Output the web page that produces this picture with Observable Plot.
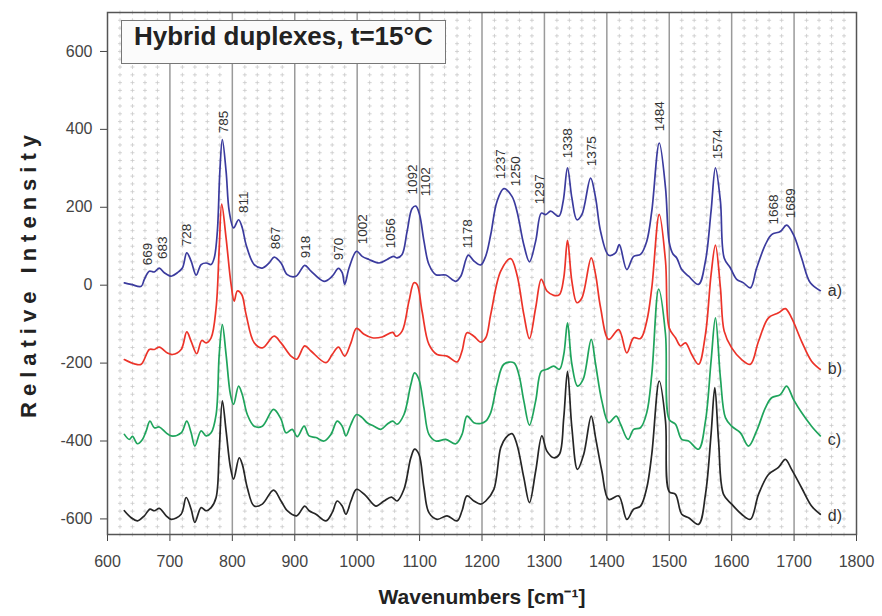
<!DOCTYPE html>
<html><head><meta charset="utf-8">
<script src="https://cdn.jsdelivr.net/npm/d3@7"></script>
<script src="https://cdn.jsdelivr.net/npm/@observablehq/plot@0.6"></script>
<style>
html,body{margin:0;padding:0;background:#fff;}
#wrap{position:relative;width:882px;height:616px;}
#title{position:absolute;left:121px;top:20px;height:42px;line-height:42px;padding:0 12px;border:1.5px solid #777;background:#fbfbfb;font:bold 26px "Liberation Sans",Arial,sans-serif;color:#222;white-space:nowrap;}
</style></head><body><div id="wrap"><div id="title">Hybrid duplexes, t=15°C</div></div>
<script>
// ---- data ----
const waveA = [627,638,654,659,667,675,683,691,702,712,720,727,734,742,750,758,766,771,776,780,784,790,795,802,810,816,822,835,848,859,867,878,888,902,916,926,947,960,970,976,980,987,999,1008,1019,1035,1048,1058,1064,1072,1080,1088,1094,1100,1107,1115,1126,1142,1158,1166,1178,1187,1198,1206,1214,1224,1235,1248,1256,1267,1276,1286,1295,1302,1310,1323,1330,1337,1344,1352,1360,1374,1382,1390,1403,1414,1420,1432,1443,1454,1464,1472,1484,1494,1500,1506,1512,1520,1531,1547,1558,1567,1574,1582,1588,1598,1608,1619,1630,1640,1654,1664,1678,1688,1699,1712,1726,1742];
const intA  = [6,2,-3,15,36,34,44,32,23,32,44,83,62,26,53,57,53,70,138,292,374,292,190,147,168,147,104,53,44,57,72,57,27,23,51,36,10,23,43,32,2,44,87,74,66,57,66,74,70,79,138,197,203,181,113,53,27,26,10,23,77,62,52,75,130,215,248,228,190,104,60,113,185,181,190,177,215,301,224,168,181,275,224,138,77,83,104,40,74,79,113,190,365,250,110,80,70,40,23,2,62,190,301,215,70,44,15,6,-7,44,104,130,138,154,130,70,6,-14];

const waveB = [627,643,654,667,675,683,696,704,718,727,734,743,751,758,766,774,779,783,790,798,803,808,815,822,835,848,867,878,894,903,916,926,950,960,970,980,990,999,1011,1024,1040,1057,1062,1072,1083,1091,1096,1104,1115,1128,1144,1160,1168,1176,1187,1198,1206,1214,1230,1246,1256,1267,1276,1286,1295,1304,1315,1324,1331,1337,1344,1352,1360,1375,1382,1390,1403,1419,1432,1443,1454,1464,1472,1484,1494,1500,1510,1518,1526,1536,1547,1558,1567,1574,1582,1588,1600,1616,1630,1643,1659,1675,1686,1696,1712,1728,1742];
const intB  = [-191,-202,-203,-165,-165,-159,-174,-178,-165,-120,-144,-176,-142,-148,-135,-58,96,208,121,2,-41,-15,-24,-75,-148,-161,-131,-148,-182,-190,-156,-169,-199,-178,-159,-182,-148,-111,-126,-135,-133,-121,-131,-118,-41,6,2,-67,-152,-178,-182,-197,-169,-122,-131,-146,-135,-75,36,68,27,-75,-137,-58,15,-15,-26,-24,19,115,10,-45,-33,70,27,-58,-139,-114,-174,-135,-137,-92,-7,182,62,-110,-135,-156,-148,-178,-203,-126,27,103,-7,-118,-161,-191,-203,-144,-84,-71,-60,-84,-144,-195,-216];

const waveC = [627,635,640,648,656,662,668,675,683,694,702,718,727,734,740,750,758,766,774,779,784,790,797,802,810,816,824,835,848,866,878,886,896,904,915,923,934,947,958,968,976,982,990,999,1008,1016,1027,1038,1048,1057,1064,1075,1086,1092,1099,1107,1115,1126,1142,1158,1168,1176,1187,1198,1206,1214,1224,1235,1251,1259,1267,1276,1286,1295,1304,1315,1324,1331,1337,1344,1353,1362,1375,1382,1392,1403,1415,1422,1434,1443,1454,1464,1472,1483,1494,1500,1510,1520,1531,1547,1558,1567,1574,1582,1590,1600,1614,1627,1640,1654,1664,1678,1688,1699,1712,1728,1742];
const intC  = [-383,-396,-388,-407,-396,-374,-349,-366,-364,-379,-387,-379,-349,-379,-413,-374,-387,-379,-332,-178,-101,-178,-281,-306,-259,-281,-332,-362,-362,-319,-344,-379,-370,-389,-362,-387,-391,-400,-383,-349,-362,-387,-357,-332,-340,-353,-362,-370,-357,-349,-357,-332,-255,-225,-242,-315,-383,-400,-396,-407,-383,-336,-353,-355,-349,-327,-255,-203,-199,-229,-297,-359,-297,-221,-216,-208,-216,-178,-97,-203,-259,-242,-139,-203,-297,-353,-336,-357,-396,-370,-366,-327,-229,-10,-126,-345,-357,-396,-400,-421,-349,-195,-84,-238,-340,-362,-379,-413,-374,-315,-289,-281,-259,-293,-327,-362,-387];

const waveD = [627,638,648,659,668,675,683,694,702,718,726,734,740,750,758,766,774,779,784,790,797,802,811,816,824,835,848,866,878,888,903,916,923,934,950,960,968,976,982,990,999,1014,1030,1043,1055,1064,1075,1086,1092,1099,1107,1115,1128,1144,1160,1168,1176,1187,1198,1206,1219,1230,1238,1248,1256,1267,1276,1286,1296,1304,1315,1324,1331,1337,1344,1353,1363,1375,1382,1392,1403,1419,1432,1443,1454,1464,1472,1484,1494,1500,1510,1520,1531,1547,1558,1567,1573,1579,1587,1600,1616,1630,1643,1659,1675,1686,1696,1712,1728,1742];
const intD  = [-579,-597,-605,-592,-575,-579,-573,-592,-601,-588,-545,-575,-609,-571,-579,-571,-545,-426,-297,-374,-468,-498,-443,-460,-520,-567,-562,-526,-554,-579,-592,-567,-579,-588,-605,-584,-554,-567,-588,-554,-524,-541,-567,-554,-544,-554,-524,-443,-421,-434,-520,-584,-601,-592,-605,-579,-541,-554,-562,-554,-524,-417,-392,-381,-409,-494,-558,-477,-387,-426,-443,-434,-340,-221,-366,-473,-434,-336,-392,-477,-550,-541,-601,-575,-567,-520,-434,-246,-349,-530,-537,-588,-597,-614,-537,-383,-263,-400,-537,-562,-588,-601,-537,-486,-468,-447,-473,-520,-567,-588];

const seriesNames  = ["a)","b)","c)","d)"];
const seriesColors = ["#3b3b9e","#ec3329","#1fa45c","#262626"];
const seriesLabelY = [-15,-215,-397,-592];

const peakText = ["669","683","728","785","811","867","918","970","1002","1056","1092","1102","1178","1237","1250","1297","1338","1375","1484","1574","1668","1689"];
const peakX    = [665,689,727,786,818,870,918,971,1009,1054,1089,1110,1177,1230,1254,1292,1337,1375,1485,1577,1668,1694];
const peakY    = [51,67,100,390,185,92,69,64,105,95,233,228,95,272,254,208,326,305,395,323,156,172];

const xTicks = [600,700,800,900,1000,1100,1200,1300,1400,1500,1600,1700,1800];
const yTicks = [-600,-400,-200,0,200,400,600];

// ---- build tables ----
const waves = [waveA, waveB, waveC, waveD];
const ints  = [intA, intB, intC, intD];
const rows = [];
waves.forEach((w, s) => w.forEach((x, i) => rows.push({series: seriesNames[s], wn: x, v: ints[s][i]})));
const peaks = peakText.map((t, i) => ({t, x: peakX[i], y: peakY[i]}));
const tags = seriesNames.map((n, i) => ({n, y: seriesLabelY[i]}));
const minor = [];
for (let x = 620; x < 1800; x += 20) for (let y = -640; y <= 700; y += 20) if (x % 100 !== 0) minor.push({x, y});

const font = '"Liberation Sans", Arial, sans-serif';
const chart = Plot.plot({
  width: 882, height: 616,
  marginLeft: 107, marginRight: 26, marginTop: 12, marginBottom: 82,
  style: {fontFamily: font, fontSize: "16px", color: "#444", background: "#fff"},
  x: {domain: [600, 1800], ticks: xTicks, tickSize: 7, tickPadding: 14, tickFormat: d => String(d), label: null},
  y: {domain: [-640, 700], ticks: yTicks, tickSize: 7, tickPadding: 8, tickFormat: d => String(d), label: null},
  color: {domain: seriesNames, range: seriesColors},
  marks: [
    Plot.dot(minor, {x: "x", y: "y", symbol: "plus", r: 1.4, stroke: "#c9c9c9", strokeWidth: 0.8}),
    Plot.ruleX(xTicks.slice(1, -1), {stroke: "#9a9a9a", strokeWidth: 1.5}),
    Plot.frame({stroke: "#555", strokeWidth: 1.5}),
    Plot.line(rows, {x: "wn", y: "v", z: "series", stroke: "series", strokeWidth: 1.7, curve: "catmull-rom"}),
    Plot.text(peaks, {x: "x", y: "y", text: "t", rotate: -90, textAnchor: "start", fontSize: 13.5, fill: "#333"}),
    Plot.text(tags, {x: () => 1754, y: "y", text: "n", textAnchor: "start", fontSize: 16, fill: "#333"}),
    Plot.text(["Relative Intensity"], {frameAnchor: "left", textAnchor: "middle", dx: -79, rotate: -90, fontSize: 22, fontWeight: "bold", fill: "#222"}),
    Plot.text(["Wavenumbers [cm⁻¹]"], {frameAnchor: "bottom", textAnchor: "middle", dy: 69, fontSize: 21, fontWeight: "bold", fill: "#222"})
  ]
});
d3.select(chart).selectAll("text").filter(function(){ return this.textContent === "Relative Intensity"; }).attr("letter-spacing", "6px");
document.getElementById("wrap").prepend(chart);
</script></body></html>
